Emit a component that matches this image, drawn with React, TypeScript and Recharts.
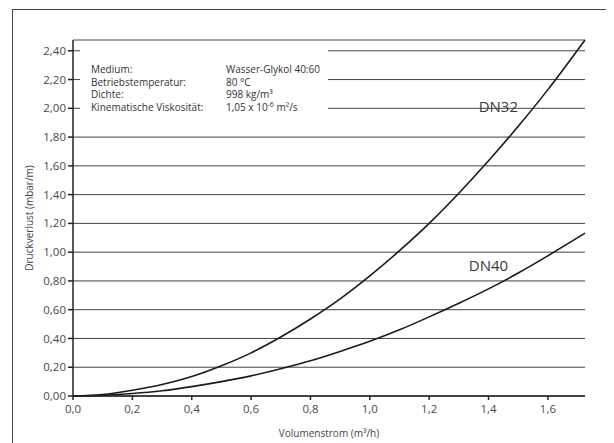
import { CartesianGrid, Line, LineChart, ReferenceDot, XAxis, YAxis } from 'recharts'

// Volumenstrom (m³/h)
const flow = [0, 0.1, 0.2, 0.3, 0.4, 0.5, 0.6, 0.7, 0.8, 0.9, 1.0, 1.1, 1.2, 1.3, 1.4, 1.5, 1.6, 1.725]
// Druckverlust (mbar/m)
const dn32 = [0, 0.01, 0.04, 0.08, 0.135, 0.21, 0.3, 0.41, 0.535, 0.675, 0.835, 1.01, 1.2, 1.41, 1.635, 1.875, 2.13, 2.475]
const dn40 = [0, 0.005, 0.017, 0.036, 0.065, 0.1, 0.14, 0.19, 0.245, 0.31, 0.38, 0.46, 0.55, 0.645, 0.745, 0.855, 0.975, 1.132]

const xTicks = [0, 0.2, 0.4, 0.6, 0.8, 1.0, 1.2, 1.4, 1.6]
const yTicks = [0, 0.2, 0.4, 0.6, 0.8, 1.0, 1.2, 1.4, 1.6, 1.8, 2.0, 2.2, 2.4]

const infoLabels = ['Medium:', 'Betriebstemperatur:', 'Dichte:', 'Kinematische Viskosität:']
const infoValues = ['Wasser-Glykol 40:60', '80 °C', '998 kg/m³', '1,05 x 10^-6 m²/s']

const data = flow.map((q, i) => ({ q, dn32: dn32[i], dn40: dn40[i] }))

const font = '"Open Sans", "Noto Sans", sans-serif'
const comma = (v: number, d: number) => v.toFixed(d).replace('.', ',')

const renderValue = (s: string) => {
  const m = s.match(/^(.*)\^(-?\d+)(.*)$/)
  if (!m) return s
  return (
    <>
      {m[1]}
      <sup style={{ fontSize: 7, verticalAlign: 'top', lineHeight: 1 }}>{m[2]}</sup>
      {m[3]}
    </>
  )
}

export default function App() {
  return (
    <div style={{ position: 'relative', width: 606, height: 435, overflow: 'hidden', fontFamily: font }}>
      {/* outer frame: only its top and left edges are in view */}
      <div style={{ position: 'absolute', left: 4, top: 1, width: 602, height: 1, background: '#444' }} />
      <div style={{ position: 'absolute', left: 4, top: 1, width: 1, height: 434, background: '#444' }} />
      <LineChart
        width={606}
        height={435}
        data={data}
        margin={{ top: 32, right: 29, left: 5, bottom: 7 }}
        style={{ position: 'absolute', left: 0, top: 0 }}
      >
        <CartesianGrid vertical={false} stroke='#444' strokeWidth={1} />
        <XAxis
          dataKey='q'
          type='number'
          domain={[0, 1.725]}
          ticks={xTicks}
          tickFormatter={(v) => comma(v, 1)}
          height={40}
          tickSize={4}
          tickMargin={5}
          stroke='#222'
          strokeWidth={1.5}
          tick={{ fill: '#4a4a4a', fontSize: 11.5, fontFamily: font }}
          label={{
            value: 'Volumenstrom (m³/h)',
            position: 'insideBottom',
            offset: -1,
            fill: '#444',
            fontSize: 10,
            fontFamily: font,
          }}
        />
        <XAxis
          xAxisId='top'
          dataKey='q'
          type='number'
          domain={[0, 1.725]}
          orientation='top'
          height={0}
          tick={false}
          tickLine={false}
          stroke='#222'
          strokeWidth={1.5}
        />
        <YAxis
          type='number'
          domain={[0, 2.475]}
          ticks={yTicks}
          tickFormatter={(v) => comma(v, 2)}
          width={60}
          tickSize={5}
          tickMargin={2}
          stroke='#222'
          strokeWidth={1.5}
          tick={{ fill: '#4a4a4a', fontSize: 11.5, fontFamily: font }}
          label={{
            value: 'Druckverlust (mbar/m)',
            angle: -90,
            position: 'insideLeft',
            offset: 16,
            style: { textAnchor: 'middle' },
            fill: '#444',
            fontSize: 10,
            fontFamily: font,
          }}
        />
        <YAxis
          yAxisId='right'
          type='number'
          domain={[0, 2.475]}
          orientation='right'
          width={0}
          tick={false}
          tickLine={false}
          stroke='#222'
          strokeWidth={1.5}
        />
        <Line
          type='monotone'
          dataKey='dn32'
          stroke='#1a1a1a'
          strokeWidth={1.6}
          dot={false}
          isAnimationActive={false}
        />
        <Line
          type='monotone'
          dataKey='dn40'
          stroke='#1a1a1a'
          strokeWidth={1.6}
          dot={false}
          isAnimationActive={false}
        />
        <ReferenceDot
          x={1.433}
          y={2.01}
          r={0}
          stroke='none'
          label={{ value: 'DN32', fill: '#3a3a3a', fontSize: 15, fontFamily: font }}
        />
        <ReferenceDot
          x={1.4}
          y={0.905}
          r={0}
          stroke='none'
          label={{ value: 'DN40', fill: '#3a3a3a', fontSize: 15, fontFamily: font }}
        />
      </LineChart>
      <div
        style={{
          position: 'absolute',
          left: 72,
          top: 33,
          width: 248,
          height: 88,
          background: '#fff',
          fontSize: 10,
          color: '#333',
          lineHeight: '12.5px',
        }}
      >
        <div style={{ position: 'absolute', left: 11, top: 22 }}>
          {infoLabels.map((l) => (
            <div key={l}>{l}</div>
          ))}
        </div>
        <div style={{ position: 'absolute', left: 146, top: 22 }}>
          {infoValues.map((v) => (
            <div key={v}>{renderValue(v)}</div>
          ))}
        </div>
      </div>
    </div>
  )
}
